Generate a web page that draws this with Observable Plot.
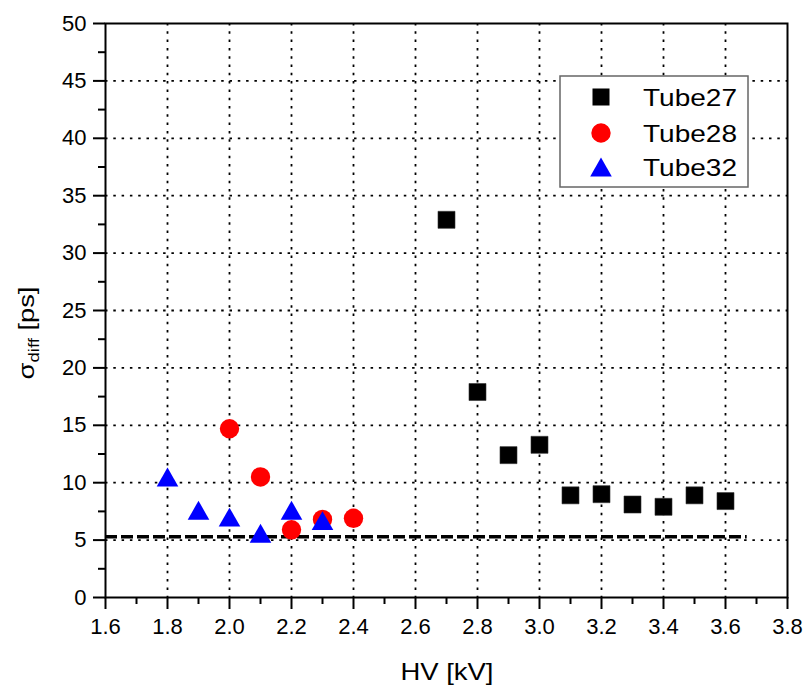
<!DOCTYPE html>
<html>
<head>
<meta charset="utf-8">
<script src="https://cdn.jsdelivr.net/npm/d3@7"></script>
<script src="https://cdn.jsdelivr.net/npm/@observablehq/plot@0.6"></script>
<style>
  html, body { margin: 0; padding: 0; background: #fff; }
  #chart { width: 805px; height: 687px; }
  svg { font-family: "Liberation Sans", Arial, sans-serif; }
</style>
</head>
<body>
<div id="chart"></div>
<script>
// Time resolution σ_diff versus high voltage for three tubes
const seriesNames = ["Tube27", "Tube28", "Tube32"];

const hv27 = [2.7, 2.8, 2.9, 3.0, 3.1, 3.2, 3.3, 3.4, 3.5, 3.6];
const sigma27 = [32.9, 17.9, 12.4, 13.3, 8.9, 9.0, 8.1, 7.9, 8.9, 8.4];

const hv28 = [2.0, 2.1, 2.2, 2.3, 2.4];
const sigma28 = [14.7, 10.5, 5.9, 6.8, 6.9];

const hv32 = [1.8, 1.9, 2.0, 2.1, 2.2, 2.3];
const sigma32 = [10.5, 7.6, 7.0, 5.6, 7.6, 6.7];

// Reference level (dashed) and its extent
const refLevel = 5.3;
const refFrom = 1.6;
const refTo = 3.67;

// Axis ticks
const xTicks = [1.6, 1.8, 2.0, 2.2, 2.4, 2.6, 2.8, 3.0, 3.2, 3.4, 3.6, 3.8];
const xMinor = [1.7, 1.9, 2.1, 2.3, 2.5, 2.7, 2.9, 3.1, 3.3, 3.5, 3.7];
const yTicks = [0, 5, 10, 15, 20, 25, 30, 35, 40, 45, 50];
const yMinor = [2.5, 7.5, 12.5, 17.5, 22.5, 27.5, 32.5, 37.5, 42.5, 47.5];

const colors = ["#000000", "#ff0000", "#0000ff"];

const rows = (xs, ys, name) => xs.map((x, i) => ({hv: x, sigma: ys[i], tube: name}));
const data27 = rows(hv27, sigma27, seriesNames[0]);
const data28 = rows(hv28, sigma28, seriesNames[1]);
const data32 = rows(hv32, sigma32, seriesNames[2]);

// Upward triangle centred on its bounding box
const triangleUp = {
  draw(context, size) {
    const k = Math.sqrt(size / Math.PI);
    const w = 1.2 * k, h = 1.05 * k;
    context.moveTo(0, -h);
    context.lineTo(w, h);
    context.lineTo(-w, h);
    context.closePath();
  }
};

const gridStyle = {stroke: "#000", strokeOpacity: 1, strokeWidth: 1.8, strokeDasharray: "2.5,5.8"};
const tickFont = 22;

const plot = Plot.plot({
  width: 805,
  height: 687,
  marginLeft: 105,
  marginRight: 18,
  marginTop: 23,
  marginBottom: 90,
  style: {fontFamily: "Liberation Sans, Arial, sans-serif", color: "#000", background: "#fff"},
  x: {domain: [1.6, 3.8]},
  y: {domain: [0, 50]},
  marks: [
    Plot.gridX(xTicks.slice(1, -1), gridStyle),
    Plot.gridY(yTicks.slice(1, -1), gridStyle),
    Plot.ruleY([refLevel], {x1: refFrom, x2: refTo, stroke: "#000", strokeWidth: 3.5, strokeDasharray: "12,4"}),
    Plot.axisX(xMinor, {tickSize: 7, strokeWidth: 2, text: null, label: null}),
    Plot.axisY(yMinor, {tickSize: 7, strokeWidth: 2, text: null, label: null}),
    Plot.axisX(xTicks, {tickSize: 12, strokeWidth: 2, tickPadding: 9, fontSize: tickFont, tickFormat: d => d.toFixed(1), label: null}),
    Plot.axisY(yTicks, {tickSize: 12, strokeWidth: 2, tickPadding: 7, fontSize: tickFont, tickFormat: d => String(d), label: null}),
    Plot.frame({stroke: "#000", strokeWidth: 2}),
    Plot.dot(data27, {x: "hv", y: "sigma", symbol: "square", r: 9.6, fill: colors[0], stroke: "#333", strokeWidth: 0.6}),
    Plot.dot(data28, {x: "hv", y: "sigma", symbol: "circle", r: 9.7, fill: colors[1]}),
    Plot.dot(data32, {x: "hv", y: "sigma", symbol: triangleUp, r: 9, fill: colors[2]})
  ]
});

const svg = d3.select(plot);

// Axis titles
svg.append("text")
  .attr("x", 447).attr("y", 680)
  .attr("text-anchor", "middle")
  .attr("font-size", 24)
  .attr("textLength", 93)
  .attr("lengthAdjust", "spacingAndGlyphs")
  .attr("fill", "#000")
  .text("HV [kV]");

const yTitle = svg.append("text")
  .attr("transform", "translate(34,333) rotate(-90) scale(1.24,1)")
  .attr("text-anchor", "middle")
  .attr("font-size", 22)
  .attr("fill", "#000");
yTitle.append("tspan").text("σ");
yTitle.append("tspan").attr("font-size", 15).attr("dy", 5).text("diff");
yTitle.append("tspan").attr("dy", -5).text(" [ps]");

// Legend
const legend = svg.append("g");
legend.append("rect")
  .attr("x", 560).attr("y", 76).attr("width", 188).attr("height", 111)
  .attr("fill", "#fff").attr("stroke", "#666").attr("stroke-width", 1.5);
const legendSymbols = [d3.symbolSquare, d3.symbolCircle, triangleUp];
const legendR = [9.6, 9.7, 9];
const rowY = [97, 133, 167];
seriesNames.forEach((name, i) => {
  legend.append("path")
    .attr("transform", `translate(601,${rowY[i]})`)
    .attr("d", d3.symbol(legendSymbols[i], legendR[i] * legendR[i] * Math.PI)())
    .attr("fill", colors[i]);
  legend.append("text")
    .attr("x", 643).attr("y", rowY[i] + 9)
    .attr("text-anchor", "start")
    .attr("font-size", 24)
    .attr("textLength", 94)
    .attr("lengthAdjust", "spacingAndGlyphs")
    .attr("fill", "#000")
    .text(name);
});

document.getElementById("chart").appendChild(plot);
</script>
</body>
</html>
